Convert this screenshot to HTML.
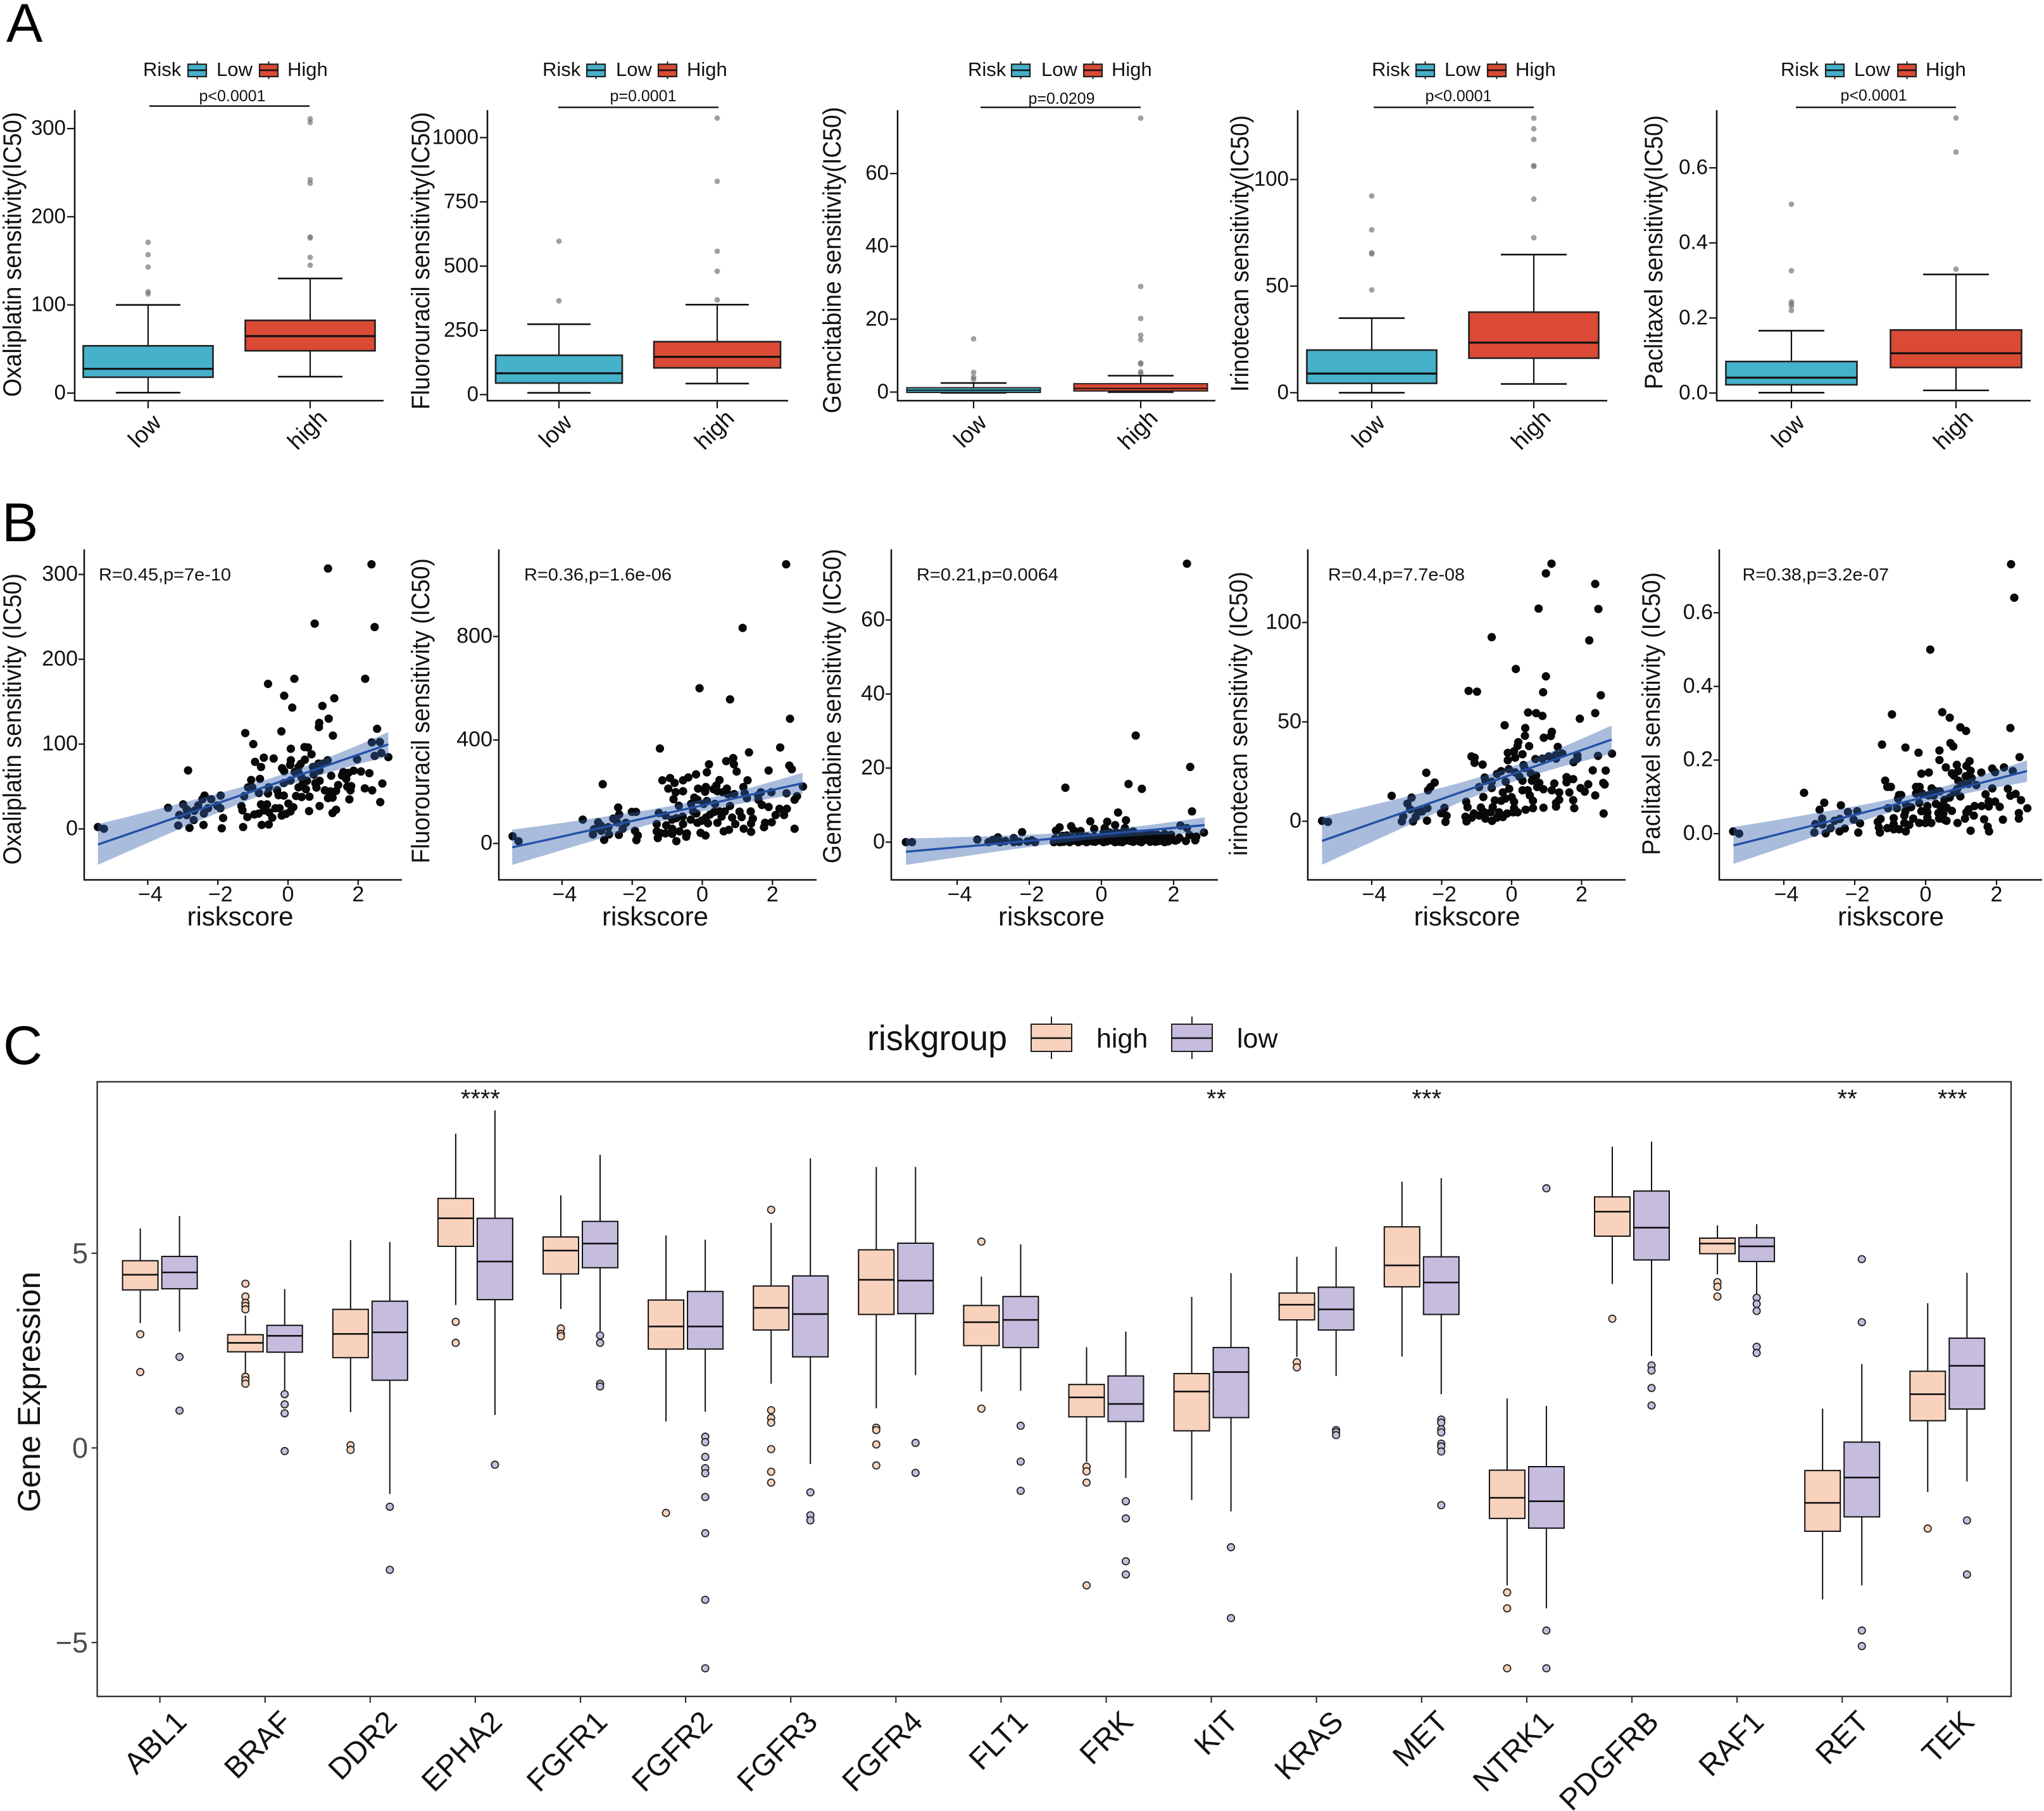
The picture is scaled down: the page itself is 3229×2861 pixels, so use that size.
<!DOCTYPE html>
<html lang="en">
<head>
<meta charset="utf-8">
<title>Drug sensitivity and target gene expression by risk group</title>
<style>
html,body{margin:0;padding:0;background:#fff;}
svg{display:block;font-family:"Liberation Sans",Arial,sans-serif;}
</style>
</head>
<body>
<svg id="figure" xmlns="http://www.w3.org/2000/svg" width="3229" height="2861" viewBox="0 0 3229 2861">
<rect x="0" y="0" width="3229" height="2861" fill="#ffffff"/>
<text x="10" y="66" font-size="86" fill="#000">A</text>
<text x="3" y="855" font-size="86" fill="#000">B</text>
<text x="5" y="1681" font-size="86" fill="#000">C</text>
</svg>
<script>
/* ---------- Panel A: box statistics [whiskerLow, q1, median, q3, whiskerHigh] ---------- */
const oxaLowBox=[0.5,18,27.5,53.6,100];
const oxaLowOut=[171,157,143,115,112.5];
const oxaHighBox=[18.6,48,64.6,82.5,130];
const oxaHighOut=[311,307,242,238,177,176,154,145];
const oxaTicks=[0,100,200,300];
const fluLowBox=[7,45,83,153,274];
const fluLowOut=[597,365];
const fluHighBox=[43,104,147,206,350];
const fluHighOut=[1076,830,558,480,369];
const fluTicks=[0,250,500,750,1000];
const gemLowBox=[-0.2,-0.1,0.5,1.2,2.5];
const gemLowOut=[14.6,5.4,4.1,3.5];
const gemHighBox=[0,0.3,1,2.3,4.5];
const gemHighOut=[75.2,29,20.2,15.6,14.4,8,7.7,5.6,5.1];
const gemTicks=[0,20,40,60];
const iriLowBox=[0,4.4,9,20,35];
const iriLowOut=[92.3,76.4,65.6,65.1,48.2];
const iriHighBox=[4.1,16.2,23.5,37.8,64.8];
const iriHighOut=[128.8,123.8,118.8,106.5,106.2,90.8,72.7];
const iriTicks=[0,50,100];
const pacLowBox=[0.001,0.022,0.041,0.084,0.166];
const pacLowOut=[0.503,0.326,0.243,0.238,0.232,0.22];
const pacHighBox=[0.007,0.068,0.106,0.168,0.316];
const pacHighOut=[0.733,0.642,0.33];
const pacTicks=[0,0.2,0.4,0.6];
const riskCategories=['low','high'];
const legendLabels=['Risk','Low','High'];

/* ---------- Panel B: scatter samples [riskscore, IC50] ---------- */
const oxaPoints=[[1.14,307],[2.38,312],[0.76,242],[2.47,238],[0.18,177],[2.2,177],[-0.57,171],[-0.11,157],[1.32,154],[0.98,145],[0.12,143],[1.16,130],[0.89,125],[0.88,120],[2.54,118],[-0.19,115],[1.28,110],[-1.22,113],[-0.99,100],[0.08,94.5],[0.47,96.5],[0.57,96],[0.67,88],[2.39,102],[2.62,102.5],[2.47,86],[2.66,89.5],[2.86,84.6],[1.97,82],[-0.69,84],[-0.41,83],[-0.94,79],[-0.77,73],[0.08,81],[0.06,75.4],[0.48,81.6],[0.36,76.6],[0.3,73],[-0.17,71.6],[-0.11,68],[0.19,67],[0.31,65.4],[0.39,60.4],[1.13,81],[0.87,77],[0.99,77],[0.71,73],[0.9,69],[0.73,64],[1.23,62.7],[1.58,67],[1.54,63],[1.66,59],[1.72,66],[1.87,68.7],[2.08,67.7],[2.32,65.7],[2.69,53.5],[2.19,47.8],[2.4,45.5],[2.63,31.6],[1.75,34.8],[1.69,49.8],[1.8,50.5],[1.78,45.5],[1.43,51.7],[1.37,44.8],[1.2,44.3],[1.05,45.5],[0.9,56.7],[0.78,54],[0.81,48.8],[0.54,56.7],[0.42,53],[0.3,49],[0.51,46.8],[1.27,36.8],[1.14,36.3],[0.9,27],[1.37,22.6],[1.27,18.7],[0.6,21],[0.61,38],[0.39,37.6],[0.23,38.8],[0.07,57],[-0.12,54],[-0.31,45.5],[-0.27,39.8],[-0.12,39.3],[-0.57,41.8],[-0.55,49],[-0.83,42.3],[-0.8,59],[-1.05,57.7],[-1.14,49],[-1.02,49],[-1.25,38.6],[-1.33,27],[-1.3,21.9],[-1.16,14],[-1.28,2.2],[-0.96,17],[-0.84,18],[-0.77,28.9],[-0.6,28.9],[-0.69,21.9],[-0.54,19.4],[-0.45,13.2],[-0.55,5.2],[-0.75,4.7],[-0.36,24.4],[-0.24,24.4],[-0.18,15.7],[-0.06,17.7],[0.07,20.6],[0.15,25.6],[0.01,29.9],[-5.42,2.2],[-5.25,0.2],[-3.42,24.9],[-2.85,69],[-3.13,4],[-3.1,16.4],[-2.99,28.9],[-2.89,23],[-2.89,16.4],[-2.69,10.4],[-2.81,1.2],[-2.67,21.4],[-2.56,27.6],[-2.44,35],[-2.38,39.3],[-2.19,35],[-2.28,24.4],[-2.4,18.2],[-2.41,4.7],[-2.02,27.4],[-1.92,39.3],[-1.93,24.4],[-1.85,12.9],[-1.89,0.7]];
const fluPoints=[[2.39,1079],[1.15,833],[-0.08,600],[0.79,557],[2.5,482],[-1.21,367],[1.33,352],[2.22,371],[0.88,330],[0.9,306],[0.68,318],[0.19,306],[0.13,275],[0.98,278],[2.48,301],[2.55,287],[1.89,282],[-0.18,267],[-0.4,255],[-0.55,244],[-0.92,253],[-1.14,244],[-0.79,234],[-0.97,212],[-0.76,198],[-0.55,202],[0.49,245],[1.29,244],[0.4,224],[0.1,218],[-0.12,212],[0.08,200],[0.32,210],[0.43,202],[0.58,198],[0.7,212],[0.73,190],[0.91,191],[1.17,218],[1.21,194],[1.27,175],[1.59,186],[1.67,198],[1.97,198],[2.4,194],[2.87,220],[2.7,183],[2.63,169],[-0.82,171],[-0.23,177],[-0.14,169],[-0.32,153],[0.04,153],[0.13,164],[0.36,153],[-0.67,146],[-0.26,124],[-0.17,116],[0.79,145],[1.6,169],[1.7,149],[1.89,141],[2.2,134],[2.41,134],[2.09,110],[2.33,110],[1.38,124],[1.06,123],[1.12,102],[1.44,96],[1.39,77],[0.94,75],[0.85,100],[0.64,124],[0.49,124],[0.34,122],[0.22,112],[0.1,100],[0.55,104],[0.43,80],[0.16,78],[-0.02,88],[-0.14,80],[-0.33,92],[-0.56,104],[-0.74,98],[-0.86,92],[-1.05,108],[-1.24,118],[-0.55,75],[-1.3,75],[-1.03,70],[-0.86,57],[-1.3,47],[-1.2,40],[-1.05,39],[-0.86,37],[-0.65,47],[-0.44,39],[-0.46,26],[-1.27,21],[-0.74,9],[-0.05,41],[0.09,31],[0.61,47],[0.76,53],[1.18,57],[1.39,45],[1.76,63],[1.79,80],[1.98,82],[2.63,57],[-5.41,28],[-5.24,9],[-3.41,92],[-2.84,229],[-2.4,139],[-2.37,112],[-2.54,96],[-2.43,82],[-2.97,82],[-2.89,69],[-3.09,55],[-3.12,35],[-2.88,49],[-2.68,63],[-2.66,35],[-2.8,14],[-2.38,33],[-2.27,57],[-2.18,80],[-2.01,122],[-1.89,122],[-1.92,49],[-1.84,31],[-1.88,13]];
const gemPoints=[[2.37,75.2],[0.95,28.8],[2.46,20.3],[0.75,15.7],[1.12,14.4],[-1,14.7],[2.51,8.3],[0.46,8],[-0.31,5.6],[0.68,5.9],[0.16,5.5],[0.38,4.6],[-0.84,4.3],[-1.16,4],[-1.26,3.1],[-2.2,2.7],[-0.2,3.6],[0.09,3.8],[-0.58,3],[-0.77,3.2],[0.65,3.8],[2.19,4.5],[2.37,3.8],[2.84,2.6],[2.44,1.9],[2.63,1.5],[2.6,0.5],[2.34,0.3],[2.16,1.2],[1.93,0.6],[1.93,2],[1.75,2.2],[1.75,0],[1.55,2],[1.37,2.3],[1.23,2.2],[1.35,0.1],[1.11,0],[0.88,0.1],[0.88,2.9],[0.73,2.6],[0.58,2.6],[0.41,2.6],[0.23,2.6],[0.58,0],[0.38,0],[0.06,0],[0.06,2.6],[-0.18,0.1],[-0.41,0],[-0.41,1.5],[-0.64,0],[-0.88,0],[-0.96,1.8],[-1.08,1.7],[-1.32,0],[-1.29,0.9],[-0.61,1.8],[-0.2,1.5],[0.23,1.2],[0.64,1.2],[1.05,0.9],[1.46,0.9],[1.64,0.6],[-5.42,0],[-5.25,0],[-3.44,0.7],[-3.13,0],[-3.01,0.6],[-2.87,1.3],[-2.81,0],[-2.66,0.3],[-2.43,1.1],[-2.43,0],[-2.28,0.1],[-2.05,0.2],[-1.93,0.5],[-1.84,0],[-1.2,0.3],[-1,0.6],[-0.8,0.9],[-0.5,0.3],[-0.3,0.8],[0,0.5],[0.1,1.8],[0.3,1],[0.5,1.6],[0.7,0.5],[0.8,1.7],[1,1.4],[1.2,0.6],[1.3,1.2],[1.5,0.1],[1.7,1],[1.85,0.2],[2.05,0.4],[-1.3,0.3],[-1.25,0.6],[-1.15,0],[-1.1,0.5],[-1.05,0.1],[-0.95,0.8],[-0.9,0.2],[-0.85,1.1],[-0.75,0.4],[-0.7,0.9],[-0.65,1.2],[-0.55,0.7],[-0.45,1.1],[-0.4,0.5],[-0.35,1.3],[-0.25,0.2],[-0.15,1],[-0.1,0.4],[0,1.4],[0.1,0.7],[0.15,0.2],[0.2,1.6],[0.3,0.4],[0.35,1.8],[0.45,0.8],[0.5,0.1],[0.55,1.9],[0.65,0.9],[0.75,1.9],[0.8,0.3],[0.9,1.1],[0.95,2.1],[1.05,0.2],[1.1,1.6],[1.25,1],[1.4,0.5],[1.5,1.5],[1.6,0.3],[1.8,1.3],[1.9,1.2],[2.1,0.6],[1.45,1.9],[1.65,1.6]];
const iriPoints=[[1.14,129.6],[0.98,124.7],[2.39,119.4],[0.77,107],[2.48,106.8],[-0.57,92.6],[2.22,91],[0.12,76.6],[0.98,72.9],[0.9,64.9],[2.55,63.4],[-1.23,65.6],[-0.99,65.2],[0.47,54.7],[0.7,54.4],[0.88,53],[2.39,54.4],[1.95,51.6],[-0.2,48.3],[0.39,46.9],[0.38,43],[1.15,45],[1.12,42.9],[0.92,42],[0.19,39.8],[0.17,37.9],[0.5,37.8],[1.32,37.4],[-0.11,34.4],[0.07,35.2],[0.1,32],[0.31,33.7],[-0.11,30.7],[0.68,31.3],[0.88,31.5],[1.06,32.6],[1.27,33.3],[1.45,34],[1.27,31.5],[1.88,33.1],[1.88,31.5],[1.77,29.7],[2.47,32.9],[2.87,34],[-1.15,32.6],[-1.06,32],[-1.06,29.4],[-0.83,28.5],[-2.44,24.4],[-2.2,19.5],[-2.32,17.2],[-2.39,15.6],[-3.43,12.8],[-2.86,11.9],[-2.98,8.9],[-2.9,6],[-2.41,6.6],[-2.56,5],[-2.68,4.5],[-2.74,2.3],[-3.1,2.5],[-3.14,-0.1],[-2.82,-0.1],[-2.42,0.3],[-5.42,0.2],[-5.25,-0.3],[-1.92,6.8],[-2.02,4.1],[-1.86,2.8],[-1.89,-0.3],[-0.77,22],[-0.42,23.8],[-0.3,25.2],[-0.08,26.2],[0.1,24.6],[0.22,22.5],[0.34,28.3],[0.37,26.8],[0.55,24.1],[0.7,23],[-0.75,20.4],[-0.57,19.9],[-0.93,17.2],[-0.57,16.7],[-0.17,19.9],[-0.07,16.3],[-0.25,14.5],[0.31,20.4],[0.58,20.4],[0.79,19.3],[0.73,17.2],[0.91,16.1],[0.31,15.6],[0.46,15.6],[0.52,13],[0.61,10.3],[1.22,19],[1.15,15.6],[1.36,14.5],[1.36,10.8],[1.27,9.2],[1.27,7.4],[1.57,22.2],[1.76,21.2],[1.57,19.6],[1.65,14.5],[1.76,10.6],[1.79,6.6],[0.91,6.8],[0.61,6.6],[0.4,5.8],[2.19,18.6],[1.97,16.7],[2.09,14.9],[2.32,25.6],[2.69,25.5],[2.62,19.3],[2.66,18.5],[2.39,13],[2.63,3.9],[-0.81,12.2],[-1.3,9.8],[-1.26,7.1],[-1.32,2.3],[-1.29,-0.1],[-1.14,1.8],[-1.08,3.9],[-0.88,6.9],[-0.78,4.5],[-0.93,2.9],[-0.75,1.3],[-0.56,0.2],[-0.54,7.1],[-0.6,4.5],[-0.36,4.5],[-0.42,1.8],[-0.25,2.1],[-0.13,3.9],[-0.48,10.5],[-0.3,10.3],[-0.18,11.4],[0,12.1],[0.07,9.8],[0.07,6.6],[0.04,4.5],[0.17,4.5]];
const pacPoints=[[2.41,0.732],[2.5,0.641],[0.13,0.5],[-0.95,0.324],[0.47,0.33],[0.68,0.315],[0.98,0.289],[1.14,0.279],[2.39,0.287],[-1.23,0.242],[-0.57,0.234],[-0.2,0.22],[0.39,0.226],[0.7,0.246],[0.78,0.237],[0.39,0.2],[2.65,0.208],[1.24,0.197],[0.88,0.187],[1.15,0.184],[0.57,0.18],[1.27,0.171],[0.92,0.17],[1.57,0.166],[1.88,0.177],[1.96,0.167],[2.21,0.18],[2.46,0.17],[-0.12,0.163],[0.09,0.166],[0.74,0.164],[0.8,0.158],[1.13,0.156],[1.3,0.151],[0.92,0.144],[1.04,0.135],[1.2,0.135],[1.43,0.132],[-1.14,0.144],[-1.08,0.127],[-0.98,0.127],[-0.27,0.127],[-0.17,0.127],[-0.27,0.109],[-0.1,0.109],[0.17,0.123],[0.29,0.115],[0.4,0.115],[0.08,0.104],[0.23,0.104],[0.89,0.121],[0.8,0.112],[0.68,0.098],[0.98,0.101],[0.53,0.092],[1.88,0.123],[2.32,0.122],[2.39,0.103],[2.54,0.108],[2.69,0.091],[2.87,0.069],[1.69,0.107],[1.78,0.088],[1.96,0.087],[1.78,0.074],[2.09,0.073],[1.58,0.075],[1.38,0.075],[1.21,0.066],[1.15,0.058],[1.36,0.049],[1.11,0.041],[0.9,0.029],[1.65,0.039],[1.75,0.019],[1.79,0.006],[1.27,0.008],[2.18,0.038],[2.63,0.056],[2.63,0.041],[-0.75,0.105],[-0.69,0.105],[-0.78,0.095],[-1.06,0.069],[-0.81,0.069],[-0.55,0.078],[-0.41,0.072],[-0.18,0.083],[0.29,0.081],[0.41,0.075],[0.59,0.071],[0.74,0.062],[0.05,0.075],[-0.12,0.061],[0.05,0.058],[-0.57,0.061],[-0.6,0.049],[0.36,0.056],[0.5,0.055],[0.38,0.041],[0.53,0.038],[0.59,0.035],[-0.9,0.042],[-0.35,0.041],[-0.6,0.029],[-0.46,0.024],[-0.18,0.029],[-0.01,0.029],[0.16,0.029],[0.05,0.044],[-1.27,0.04],[-1.35,0.032],[-1.32,0.017],[-1.29,0.003],[-1.08,0.015],[-0.9,0.012],[-0.75,0.012],[-0.56,0.006],[-0.9,0.026],[-5.43,0.006],[-5.26,0],[-3.43,0.111],[-2.86,0.084],[-2.99,0.065],[-2.39,0.077],[-2.19,0.059],[-1.93,0.061],[-2.92,0.041],[-3.11,0.026],[-2.91,0.025],[-2.57,0.035],[-2.42,0.04],[-2.03,0.038],[-1.85,0.028],[-3.14,0.003],[-2.82,0.001],[-2.68,0.015],[-2.43,0.006],[-2.28,0.014],[-1.9,0.003]];
/* regression fit */
const fitX=[-5.42,-4.5,-3.5,-2.5,-1.5,-0.5,0.5,1.5,2.2,2.86];
const oxaFit=[-18.4,-5.3,9,23.3,37.5,51.8,66,80.3,90.3,99.7];
const oxaBand=[24,20.3,16.5,12.9,9.8,7.8,7.8,9.8,11.9,14.4];
const fluFit=[-15,12,42,72,102,132,162,192,213,233];
const fluBand=[68,57.9,47,37,28.3,23,23,28.3,34,40.6];
const gemFit=[-2.6,-1.8,-0.95,-0.08,0.8,1.66,2.53,3.4,4,4.6];
const gemBand=[3.55,3,2.43,1.9,1.44,1.14,1.14,1.44,1.77,2.08];
const iriFit=[-9.9,-4.2,1.9,8.1,14.3,20.4,26.6,32.7,37,41.1];
const iriBand=[12,10.2,8.3,6.5,4.9,3.95,3.95,4.9,6,7.1];
const pacFit=[-0.032,-0.01,0.0146,0.039,0.0634,0.088,0.112,0.1366,0.1537,0.17];
const pacBand=[0.05,0.0424,0.0343,0.0266,0.02,0.0156,0.0156,0.02,0.0245,0.0293];
const riskTicks=[-4,-2,0,2];
const oxaScatterTicks=[0,100,200,300];
const fluScatterTicks=[0,400,800];
const gemScatterTicks=[0,20,40,60];
const iriScatterTicks=[0,50,100];
const pacScatterTicks=[0,0.2,0.4,0.6];

/* ---------- Panel C: genes; box stats [whiskerLow, q1, median, q3, whiskerHigh] ---------- */
const genes=['ABL1','BRAF','DDR2','EPHA2','FGFR1','FGFR2','FGFR3','FGFR4','FLT1','FRK','KIT','KRAS','MET','NTRK1','PDGFRB','RAF1','RET','TEK'];
const highBoxes=[[3.29,4.14,4.53,4.89,5.72],[1.99,2.55,2.78,2.99,3.48],[1,2.4,3.01,3.64,5.42],[3.75,5.26,5.98,6.49,8.15],[3.65,4.55,5.15,5.5,6.57],[0.76,2.62,3.2,3.88,5.54],[1.73,3.11,3.68,4.24,5.86],[1.1,3.51,4.4,5.17,7.3],[1.53,2.71,3.31,3.74,4.48],[-0.28,0.88,1.38,1.71,2.67],[-1.26,0.52,1.53,1.99,3.96],[2.42,3.37,3.76,4.06,4.99],[2.43,4.22,4.77,5.76,6.92],[-3.45,-1.73,-1.2,-0.49,1.35],[4.29,5.52,6.15,6.53,7.82],[4.54,5.07,5.33,5.47,5.8],[-3.81,-2.06,-1.33,-0.5,1.09],[-1.05,0.78,1.46,2.05,3.8]];
const lowBoxes=[[3.07,4.17,4.59,5,6.04],[1.55,2.54,2.96,3.23,4.16],[-1.1,1.82,3.05,3.85,5.37],[0.93,3.89,4.87,5.98,8.75],[3.08,4.71,5.33,5.9,7.61],[1.01,2.62,3.2,4.1,5.43],[-0.33,2.42,3.52,4.5,7.52],[1.95,3.53,4.38,5.34,7.3],[1.55,2.66,3.37,3.97,5.31],[-0.69,0.76,1.21,1.93,3.07],[-1.55,0.86,2.03,2.66,4.57],[1.93,3.11,3.64,4.21,5.25],[1.46,3.51,4.33,4.99,7.01],[-4.04,-1.98,-1.29,-0.4,1.16],[2.44,4.91,5.74,6.68,7.95],[4.01,4.87,5.26,5.48,5.83],[-3.45,-1.69,-0.68,0.23,2.24],[-0.78,1.08,2.19,2.9,4.58]];
const highOutliers=[[3,2.03],[4.3,3.97,3.81,3.73,3.64,1.91,1.82,1.73],[0.15,0.03],[3.32,2.78],[3.15,3.01,2.95],[-1.59],[6.2,1.05,0.85,0.73,0.05,-0.53,-0.81],[0.6,0.54,0.17,-0.37],[5.38,1.09],[-0.4,-0.52,-0.81,-3.45],[],[2.28,2.15],[],[-3.63,-4.04,-5.58],[3.4],[4.34,4.22,3.97],[],[-1.99]];
const lowOutliers=[[2.42,1.04],[1.46,1.2,0.97,0],[-1.43,-3.05],[-0.35],[2.97,2.78,1.73,1.66],[0.37,0.23,-0.15,-0.44,-0.57,-1.18,-2.11,-3.82,-5.58],[-1.06,-1.65,-1.78],[0.21,-0.56],[0.65,-0.27,-1.02],[-1.29,-1.73,-2.83,-3.17],[-2.47,-4.29],[0.54,0.49,0.41],[0.81,0.73,0.56,0.48,0.19,0.12,-0.01,-1.39],[6.75,-4.61,-5.58],[2.2,2.07,1.62,1.17],[3.94,3.78,3.6,2.68,2.52],[4.93,3.31,-4.61,-5.01],[-1.78,-3.17]];
const significance=['','','','****','','','','','','','**','','***','','','','**','***'];
const expressionTicks=[-5,0,5];
const groupLabels=['high','low'];

/* ---------- drawing helpers ---------- */
const NS='http://www.w3.org/2000/svg';
const root=document.getElementById('figure');
const AX='#111';
function node(parent,tag,attrs){
  const el=document.createElementNS(NS,tag);
  for(const k in attrs) el.setAttribute(k,attrs[k]);
  parent.appendChild(el);
  return el;
}
function lineEl(parent,x1,y1,x2,y2,color,w){
  return node(parent,'line',{x1:x1,y1:y1,x2:x2,y2:y2,stroke:color,'stroke-width':w});
}
function label(parent,x,y,str,size,anchor,fill,extra){
  const t=node(parent,'text',Object.assign({x:x,y:y,'font-size':size,'text-anchor':anchor||'start',fill:fill||'#000'},extra||{}));
  t.textContent=str;
  return t;
}
function rotatedTitle(parent,baseX,top,bottom,str,size){
  const cy=(top+bottom)/2;
  return label(parent,baseX,cy,str,size,'middle','#111',{transform:'rotate(-90 '+baseX+' '+cy+')',textLength:bottom-top,lengthAdjust:'spacingAndGlyphs'});
}

/* ---------- Panel A ---------- */
const boxLayouts=[
 {name:'oxaliplatin',title:'Oxaliplatin sensitivity(IC50)',lowBox:oxaLowBox,lowOut:oxaLowOut,highBox:oxaHighBox,highOut:oxaHighOut,ticks:oxaTicks,axL:118,axR:606,y0:621,perUnit:1.393,catX:[234,490],half:102.5,cap:51,tb:33,tt:177,tbt:627,p:'p<0.0001',pc:367,pb:160,lx:[236,489],ly:167.6,leg:[226,297,342,410,454],fmt:0,sw:2.6,msw:3.2},
 {name:'fluorouracil',title:'Fluorouracil sensitivity(IC50)',lowBox:fluLowBox,lowOut:fluLowOut,highBox:fluHighBox,highOut:fluHighOut,ticks:fluTicks,axL:770,axR:1245,y0:623.4,perUnit:0.406,catX:[883,1133],half:100,cap:50,tb:678,tt:177,tbt:647,p:'p=0.0001',pc:1016,pb:160,lx:[882,1135],ly:169.6,leg:[857,927,973,1040,1085],fmt:0,sw:2.6,msw:3.2},
 {name:'gemcitabine',title:'Gemcitabine sensitivity(IC50)',lowBox:gemLowBox,lowOut:gemLowOut,highBox:gemHighBox,highOut:gemHighOut,ticks:gemTicks,axL:1418,axR:1920,y0:619.4,perUnit:5.754,catX:[1538,1802],half:105.5,cap:52,tb:1328,tt:169,tbt:653,p:'p=0.0209',pc:1677,pb:164,lx:[1549,1802],ly:169.6,leg:[1529,1598,1645,1712,1756],fmt:0,sw:2,msw:2},
 {name:'irinotecan',title:'Irinotecan sensitivity(IC50)',lowBox:iriLowBox,lowOut:iriLowOut,highBox:iriHighBox,highOut:iriHighOut,ticks:iriTicks,axL:2050,axR:2539,y0:620.4,perUnit:3.368,catX:[2167,2423],half:102.5,cap:52,tb:1972,tt:182,tbt:619,p:'p<0.0001',pc:2304,pb:160,lx:[2170,2423],ly:169.6,leg:[2167,2237,2282,2350,2394],fmt:0,sw:2.6,msw:3.2},
 {name:'paclitaxel',title:'Paclitaxel sensitivity(IC50)',lowBox:pacLowBox,lowOut:pacLowOut,highBox:pacHighBox,highOut:pacHighOut,ticks:pacTicks,axL:2712,axR:3208,y0:620.9,perUnit:592.9,catX:[2830,3090],half:103.5,cap:52,tb:2626,tt:182,tbt:615,p:'p<0.0001',pc:2960,pb:159,lx:[2837,3090],ly:169.6,leg:[2813,2884,2929,2998,3042],fmt:1,sw:2.6,msw:3.2}
];
const BOX_FILL=['#45B1CA','#DA4A34'];
const CAT_DX=[23,29];
const CAT_BASE=[670,663];
boxLayouts.forEach(function(L){
  const g=node(root,'g',{});
  
  
  const sy=function(v){return L.y0-v*L.perUnit;};
  const axisTop=174,axisBottom=633;
  const yAxis=lineEl(g,L.axL,axisTop,L.axL,axisBottom+1,AX,2.5);
  
  
  const xAxis=lineEl(g,L.axL-1,axisBottom,L.axR,axisBottom,AX,2.5);
  
  
  L.ticks.forEach(function(v){
    const tick=lineEl(g,L.axL-12,sy(v),L.axL,sy(v),AX,2.2);
    
    
    const tl=label(g,L.axL-14,sy(v)+10,L.fmt?v.toFixed(1):String(v),33,'end','#111');
    
    
  });
  const yt=rotatedTitle(g,L.tb,L.tt,L.tbt,L.title,40);
  
  
  [[L.lowBox,L.lowOut],[L.highBox,L.highOut]].forEach(function(pair,i){
    const cx=L.catX[i],b=pair[0];
    pair[1].forEach(function(v){
      const o=node(g,'circle',{cx:cx,cy:sy(v),r:4.4,fill:'#777','fill-opacity':0.7});
      
      
    });
    const w=lineEl(g,cx,sy(b[0]),cx,sy(b[4]),'#111',2.2);
    
    
    const c1=lineEl(g,cx-L.cap,sy(b[0]),cx+L.cap,sy(b[0]),'#111',2.6);
    
    
    const c2=lineEl(g,cx-L.cap,sy(b[4]),cx+L.cap,sy(b[4]),'#111',2.6);
    
    
    const r=node(g,'rect',{x:cx-L.half,y:sy(b[3]),width:L.half*2,height:Math.max(sy(b[1])-sy(b[3]),0.5),fill:BOX_FILL[i],stroke:'#222','stroke-width':L.sw});
    
    
    const m=lineEl(g,cx-L.half,sy(b[2]),cx+L.half,sy(b[2]),'#111',L.msw);
    
    
    const xt=lineEl(g,cx,axisBottom,cx,axisBottom+12,AX,2.2);
    
    
    const bx=cx+CAT_DX[i],by=CAT_BASE[i];
    const tl=label(g,bx,by,riskCategories[i],37,'end','#111',{transform:'rotate(-45 '+bx+' '+by+')'});
    
    
  });
  /* bracket + p value */
  const br=lineEl(g,L.lx[0],L.ly,L.lx[1],L.ly,'#111',2.4);
  
  
  const pt=label(g,L.pc,L.pb,L.p,25,'middle','#111');
  
  
  /* legend */
  const lt=label(g,L.leg[0],120,legendLabels[0],31,'start','#111');
  
  
  [0,1].forEach(function(i){
    const kx=L.leg[1+i*2];
    const key=node(g,'g',{});
    
    
    lineEl(key,kx+14.5,97,kx+14.5,125,'#222',2);
    node(key,'rect',{x:kx,y:101.5,width:29,height:19.5,fill:BOX_FILL[i],stroke:'#222','stroke-width':2.2});
    lineEl(key,kx,111,kx+29,111,'#111',2.6);
    const kt=label(g,L.leg[2+i*2],120,legendLabels[i+1],31,'start','#111');
    
    
  });
});

/* ---------- Panel B ---------- */
const scatterLayouts=[
 {name:'oxaliplatin',title:'Oxaliplatin sensitivity (IC50)',pts:oxaPoints,fit:oxaFit,band:oxaBand,ticks:oxaScatterTicks,axL:133,axR:635,x0:455,perX:55.4,y0:1309.5,perY:1.34,tb:33,tt:906,tbt:1366,note:'R=0.45,p=7e-10',nl:156,nr:365,xc:379.5,fmt:0},
 {name:'fluorouracil',title:'Fluorouracil sensitivity (IC50)',pts:fluPoints,fit:fluFit,band:fluBand,ticks:fluScatterTicks,axL:788,axR:1290,x0:1109.5,perX:55.4,y0:1332.5,perY:0.40875,tb:678,tt:882,tbt:1364,note:'R=0.36,p=1.6e-06',nl:828,nr:1061,xc:1035,fmt:0},
 {name:'gemcitabine',title:'Gemcitabine sensitivity (IC50)',pts:gemPoints,fit:gemFit,band:gemBand,ticks:gemScatterTicks,axL:1408,axR:1924,x0:1740,perX:57,y0:1330.4,perY:5.85,tb:1328,tt:867,tbt:1364,note:'R=0.21,p=0.0064',nl:1448,nr:1672,xc:1661,fmt:0},
 {name:'irinotecan',title:'irinotecan sensitivity (IC50)',pts:iriPoints,fit:iriFit,band:iriBand,ticks:iriScatterTicks,axL:2066,axR:2568,x0:2388,perX:55.25,y0:1297.4,perY:3.14,tb:1970,tt:903,tbt:1352,note:'R=0.4,p=7.7e-08',nl:2098,nr:2314,xc:2317.6,fmt:0},
 {name:'paclitaxel',title:'Paclitaxel sensitivity (IC50)',pts:pacPoints,fit:pacFit,band:pacBand,ticks:pacScatterTicks,axL:2716,axR:3226,x0:3042,perX:56,y0:1317,perY:581.5,tb:2622,tt:904,tbt:1351,note:'R=0.38,p=3.2e-07',nl:2752.5,nr:2984,xc:2987,fmt:1}
];
scatterLayouts.forEach(function(L){
  const g=node(root,'g',{});
  
  
  const sx=function(v){return L.x0+v*L.perX;};
  const sy=function(v){return L.y0-v*L.perY;};
  const top=868,bottom=1390;
  L.pts.forEach(function(p){
    const dot=node(g,'circle',{cx:sx(p[0]),cy:sy(p[1]),r:6.6,fill:'#080808'});
    
    
  });
  let d='';
  fitX.forEach(function(x,i){d+=(i?'L':'M')+sx(x).toFixed(1)+' '+sy(L.fit[i]+L.band[i]).toFixed(1);});
  for(let i=fitX.length-1;i>=0;i--){d+='L'+sx(fitX[i]).toFixed(1)+' '+sy(L.fit[i]-L.band[i]).toFixed(1);}
  const rib=node(g,'path',{d:d+'Z',fill:'#325fab','fill-opacity':0.42});
  
  
  const trend=node(g,'polyline',{points:fitX.map(function(x,i){return sx(x).toFixed(1)+','+sy(L.fit[i]).toFixed(1);}).join(' '),fill:'none',stroke:'#2450A6','stroke-width':3.4});
  
  
  const yAxis=lineEl(g,L.axL,top,L.axL,bottom+1,AX,2.5);
  
  
  const xAxis=lineEl(g,L.axL-1,bottom,L.axR,bottom,AX,2.5);
  
  
  L.ticks.forEach(function(v){
    const tick=lineEl(g,L.axL-9,sy(v),L.axL,sy(v),AX,2.2);
    
    
    const tl=label(g,L.axL-10,sy(v)+10,L.fmt?v.toFixed(1):String(v),34,'end','#111');
    
    
  });
  riskTicks.forEach(function(v){
    const tick=lineEl(g,sx(v),bottom,sx(v),bottom+8,AX,2.2);
    
    
    const tl=label(g,sx(v)+(v<0?4:0),1424,String(v).replace('-','\u2212'),34,'middle','#111');
    
    
  });
  const xt=label(g,L.xc,1462,'riskscore',42,'middle','#111');
  
  
  const yt=rotatedTitle(g,L.tb,L.tt,L.tbt,L.title,40);
  
  
  const note=label(g,L.nl,917,L.note,28,'start','#111',{textLength:L.nr-L.nl,lengthAdjust:'spacingAndGlyphs'});
  
  
});

/* ---------- Panel C ---------- */
(function(){
  const g=node(root,'g',{});
  
  
  const left=153.6,right=3177,top=1709,bottom=2680;
  const sy=function(v){return 2292.4-v*61.5;};
  const sx=function(i){return 252.6+166.1*i;};
  const FILL=['#F8D2BC','#C5BCDE'];
  const frame=node(g,'rect',{x:left,y:top,width:right-left,height:bottom-top,fill:'none',stroke:'#333','stroke-width':2.4});
  
  
  expressionTicks.forEach(function(v){
    const tick=lineEl(g,left-9,sy(v)-5,left,sy(v)-5,'#333',2.2);
    
    
    const tl=label(g,139,sy(v)+10.5,String(v).replace('-','\u2212'),45,'end','#4d4d4d');
    
    
  });
  const yt=rotatedTitle(g,63,2009,2389,'Gene Expression',50);
  
  
  genes.forEach(function(gene,i){
    const cx=sx(i);
    [[highBoxes[i],highOutliers[i]],[lowBoxes[i],lowOutliers[i]]].forEach(function(pair,s){
      const c=cx+(s?31:-31),b=pair[0];
      const w=lineEl(g,c,sy(b[0]),c,sy(b[4]),'#111',2);
      
      
      const r=node(g,'rect',{x:c-28,y:sy(b[3]),width:56,height:sy(b[1])-sy(b[3]),fill:FILL[s],stroke:'#111','stroke-width':2});
      
      
      const m=lineEl(g,c-28,sy(b[2]),c+28,sy(b[2]),'#111',2.6);
      
      
      pair[1].forEach(function(v){
        const o=node(g,'circle',{cx:c,cy:sy(v),r:5.6,fill:FILL[s],stroke:'#222','stroke-width':1.8});
        
        
      });
    });
    const xt=lineEl(g,cx,bottom,cx,bottom+10,'#333',2.2);
    
    
    const bx=cx+45,by=2723;
    const tl=label(g,bx,by,gene,47.5,'end','#111',{transform:'rotate(-45 '+bx+' '+by+')'});
    
    
    if(significance[i]){
      const st=label(g,cx+8,1749,significance[i],40,'middle','#111');
      
      
    }
  });
  const lt=label(g,1370,1659,'riskgroup',56,'start','#111',{textLength:221,lengthAdjust:'spacingAndGlyphs'});
  
  
  [[1629,1732],[1851,1954]].forEach(function(pos,s){
    const key=node(g,'g',{});
    
    
    lineEl(key,pos[0]+32,1606,pos[0]+32,1673,'#222',2);
    node(key,'rect',{x:pos[0],y:1618,width:64,height:43,fill:FILL[s],stroke:'#222','stroke-width':2});
    lineEl(key,pos[0],1640,pos[0]+64,1640,'#111',2.6);
    const kt=label(g,pos[1],1655,groupLabels[s],43,'start','#111');
    
    
  });
})();
</script>
</body>
</html>
